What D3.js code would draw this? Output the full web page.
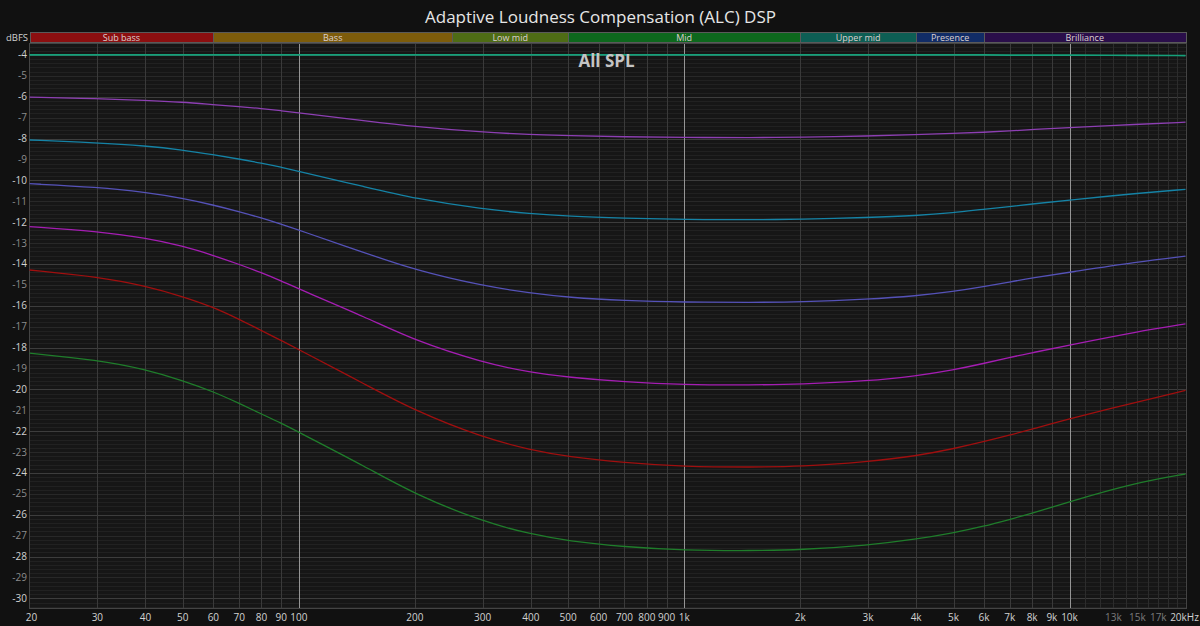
<!DOCTYPE html>
<html>
<head>
<meta charset="utf-8">
<script src="https://cdn.jsdelivr.net/npm/d3@7"></script>
<style>
  html, body { margin: 0; padding: 0; background: #111111; }
  svg { display: block; font-family: "Open Sans", "Noto Sans", sans-serif; }
</style>
</head>
<body>
<svg id="chart" width="1200" height="626"></svg>
<script>
// frequencies (Hz) the curves were read at
var freqs = [20, 30, 40, 50, 60, 70, 80, 90, 100, 150, 200, 300, 400, 500, 700,
	1000, 1500, 2000, 3000, 4000, 5000, 6000, 7000, 8000, 10000, 15000, 20000];

// one curve per SPL step, values in dBFS
var splFlat = [-4.0, -4.0, -4.0, -4.0, -4.0, -4.0, -4.0, -4.0, -4.0, -4.0, -4.0, -4.0, -4.0, -4.0, -4.0,
	-4.0, -4.0, -4.0, -4.0, -4.0, -4.0, -4.0, -4.01, -4.01, -4.01, -4.02, -4.03];
var splPurple = [-6.02, -6.09, -6.17, -6.26, -6.38, -6.47, -6.57, -6.67, -6.77, -7.16, -7.43, -7.70, -7.81, -7.86, -7.92,
	-7.95, -7.96, -7.94, -7.88, -7.81, -7.76, -7.70, -7.64, -7.57, -7.48, -7.32, -7.22];
var splCyan = [-8.07, -8.20, -8.35, -8.55, -8.78, -8.98, -9.18, -9.37, -9.57, -10.33, -10.87, -11.38, -11.60, -11.72, -11.81,
	-11.88, -11.89, -11.86, -11.78, -11.69, -11.55, -11.38, -11.26, -11.13, -10.94, -10.62, -10.43];
var splViolet = [-10.16, -10.33, -10.57, -10.86, -11.18, -11.50, -11.80, -12.10, -12.38, -13.50, -14.29, -15.05, -15.40, -15.60, -15.76,
	-15.83, -15.84, -15.82, -15.69, -15.53, -15.32, -15.09, -14.86, -14.67, -14.40, -13.90, -13.63];
var splMagenta = [-12.21, -12.44, -12.76, -13.14, -13.59, -14.02, -14.42, -14.81, -15.20, -16.57, -17.67, -18.72, -19.20, -19.42, -19.65,
	-19.78, -19.79, -19.76, -19.60, -19.36, -19.07, -18.76, -18.47, -18.25, -17.88, -17.24, -16.87];
var splRed = [-14.29, -14.61, -15.05, -15.56, -16.07, -16.65, -17.19, -17.66, -18.10, -19.80, -21.02, -22.31, -22.90, -23.22, -23.51,
	-23.70, -23.72, -23.70, -23.46, -23.19, -22.84, -22.50, -22.19, -21.90, -21.40, -20.60, -20.05];
var splGreen = [-18.27, -18.59, -19.04, -19.58, -20.11, -20.67, -21.18, -21.62, -22.05, -23.73, -25.02, -26.33, -26.93, -27.25, -27.54,
	-27.70, -27.72, -27.68, -27.46, -27.17, -26.87, -26.55, -26.22, -25.93, -25.37, -24.45, -24.05];

var seriesValues = [splFlat, splPurple, splCyan, splViolet, splMagenta, splRed, splGreen];
var seriesColors = ["#16a07a", "#8d3fb3", "#1583a6", "#5552b8", "#a51db3", "#a00f0f", "#1f7d2b"];

// frequency bands across the top
var bandNames = ["Sub bass", "Bass", "Low mid", "Mid", "Upper mid", "Presence", "Brilliance"];
var bandEdges = [20, 60, 250, 500, 2000, 4000, 6000, 20000];
var bandColors = ["#8c0f10", "#7d5c0b", "#4e6c15", "#0d681d", "#0d5e54", "#112c66", "#2a0e4a"];

// axis ticks
var xTicks = [20, 30, 40, 50, 60, 70, 80, 90, 100, 200, 300, 400, 500, 600, 700, 800, 900,
	1000, 2000, 3000, 4000, 5000, 6000, 7000, 8000, 9000, 10000, 11000, 12000, 13000, 14000,
	15000, 16000, 17000, 18000, 19000, 20000];
var xLabels = {20: "20", 30: "30", 40: "40", 50: "50", 60: "60", 70: "70", 80: "80", 90: "90", 100: "100",
	200: "200", 300: "300", 400: "400", 500: "500", 600: "600", 700: "700", 800: "800", 900: "900",
	1000: "1k", 2000: "2k", 3000: "3k", 4000: "4k", 5000: "5k", 6000: "6k", 7000: "7k", 8000: "8k",
	9000: "9k", 10000: "10k", 13000: "13k", 15000: "15k", 17000: "17k", 20000: "20kHz"};
var yTicks = d3.range(-4, -31, -1);

var svg = d3.select("#chart"),
	width = +svg.attr("width"),
	height = +svg.attr("height");

var plotLeft = 29.5, plotRight = 1185.5, plotTop = 43, plotBottom = 608;

var x = d3.scaleLog()
	.domain([20, 20000])
	.range([plotLeft, plotRight]);

var y = d3.scaleLinear()
	.domain([-30.46, -3.43])
	.range([plotBottom, plotTop]);

function px(v) { return Math.round(v) + 0.5; }

// title
svg.append("text")
	.attr("x", 600.5)
	.attr("y", 23)
	.attr("text-anchor", "middle")
	.attr("fill", "#e6e6e6")
	.attr("font-size", 17)
	.text("Adaptive Loudness Compensation (ALC) DSP");

// plot background
svg.append("rect")
	.attr("x", plotLeft)
	.attr("y", plotTop)
	.attr("width", plotRight - plotLeft)
	.attr("height", plotBottom - plotTop)
	.attr("fill", "#161616");

var grid = svg.append("g").attr("shape-rendering", "crispEdges");

// fine horizontal lines every 0.2 dB
var fine = d3.range(-30.4, -3.5, 0.2).filter(function(v) {
	return Math.abs(v - Math.round(v)) > 0.01;
});
grid.selectAll(".fine")
	.data(fine)
	.enter().append("line")
	.attr("x1", plotLeft).attr("x2", plotRight)
	.attr("y1", function(d) { return px(y(d)); })
	.attr("y2", function(d) { return px(y(d)); })
	.attr("stroke", "#212121");

grid.selectAll(".hmajor")
	.data(yTicks)
	.enter().append("line")
	.attr("x1", plotLeft).attr("x2", plotRight)
	.attr("y1", function(d) { return px(y(d)); })
	.attr("y2", function(d) { return px(y(d)); })
	.attr("stroke", function(d) { return d % 2 == 0 ? "#3d3d3d" : "#282828"; });

grid.selectAll(".vline")
	.data(xTicks.slice(1, -1))
	.enter().append("line")
	.attr("x1", function(d) { return px(x(d)); })
	.attr("x2", function(d) { return px(x(d)); })
	.attr("y1", plotTop).attr("y2", plotBottom)
	.attr("stroke", function(d) {
		if (d == 100 || d == 1000 || d == 10000) return "#959595";
		if (d > 10000) return "#2c2c2c";
		return "#3a3a3a";
	});

// frame
svg.append("rect")
	.attr("x", px(plotLeft) - 1)
	.attr("y", plotTop)
	.attr("width", px(plotRight) - px(plotLeft) + 1)
	.attr("height", plotBottom - plotTop)
	.attr("fill", "none")
	.attr("stroke", "#444")
	.attr("shape-rendering", "crispEdges");

// band bar
var bands = svg.append("g");
bandNames.forEach(function(name, i) {
	var x0 = x(bandEdges[i]), x1 = x(bandEdges[i + 1]);
	bands.append("rect")
		.attr("x", px(x0))
		.attr("y", 32.5)
		.attr("width", Math.round(x1) - Math.round(x0))
		.attr("height", 9.5)
		.attr("fill", bandColors[i])
		.attr("stroke", "#5a5a5a")
		.attr("shape-rendering", "crispEdges");
	bands.append("text")
		.attr("x", (x0 + x1) / 2)
		.attr("y", 40.5)
		.attr("text-anchor", "middle")
		.attr("fill", "#dcd0d0")
		.attr("font-size", 9)
		.text(name);
});

svg.append("text")
	.attr("x", 28)
	.attr("y", 40.5)
	.attr("text-anchor", "end")
	.attr("fill", "#d0d0d0")
	.attr("font-size", 9.5)
	.text("dBFS");

// y labels
svg.selectAll(".ylab")
	.data(yTicks)
	.enter().append("text")
	.attr("x", 27)
	.attr("y", function(d) { return y(d) + 3.5; })
	.attr("text-anchor", "end")
	.attr("font-size", 10)
	.attr("fill", function(d) { return d % 2 == 0 ? "#d2d2d2" : "#8c8c8c"; })
	.text(function(d) { return d; });

// x labels
svg.selectAll(".xlab")
	.data(xTicks.filter(function(d) { return xLabels[d]; }))
	.enter().append("text")
	.attr("x", function(d) { return d == 20 ? x(d) + 2 : (d == 20000 ? x(d) - 1 : x(d)); })
	.attr("y", 621)
	.attr("text-anchor", "middle")
	.attr("font-size", 10)
	.attr("fill", function(d) { return (d == 13000 || d == 15000 || d == 17000) ? "#7c7c7c" : "#d2d2d2"; })
	.text(function(d) { return xLabels[d]; });

// curves, smoothed through the read points
var line = d3.line()
	.x(function(d) { return x(d[0]); })
	.y(function(d) { return y(d[1]); })
	.curve(d3.curveBasis);

svg.append("g").selectAll("path")
	.data(seriesValues)
	.enter().append("path")
	.attr("d", function(vals) {
		return line(freqs.map(function(f, i) { return [f, vals[i]]; }));
	})
	.attr("fill", "none")
	.attr("stroke", function(d, i) { return seriesColors[i]; })
	.attr("stroke-width", function(d, i) { return i == 0 ? 1.7 : 1.3; });

svg.append("text")
	.attr("x", 606.5)
	.attr("y", 67)
	.attr("text-anchor", "middle")
	.attr("font-size", 17)
	.attr("font-weight", "bold")
	.attr("fill", "#c4c4c4")
	.text("All SPL");
</script>
</body>
</html>
